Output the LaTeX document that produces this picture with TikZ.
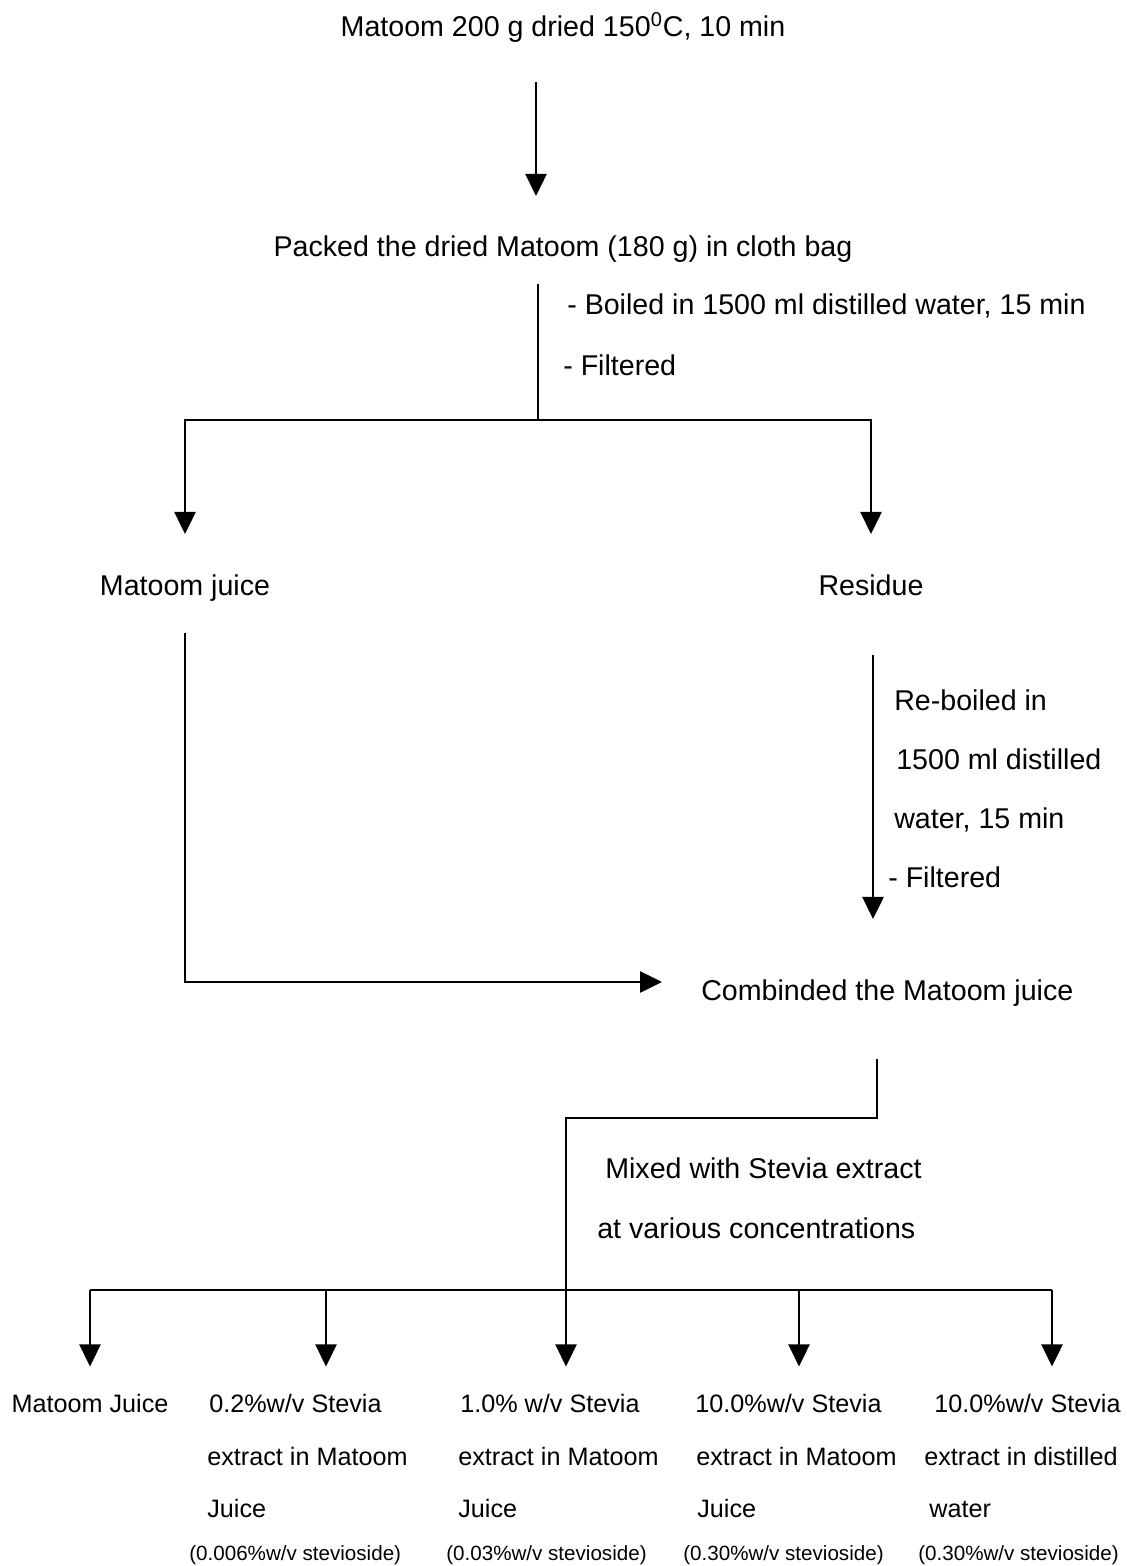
\documentclass[tikz,border=0pt]{standalone}
\usepackage{fontspec}
\setmainfont{Liberation Sans}
\usetikzlibrary{arrows.meta}
\usetikzlibrary{positioning}

\begin{document}
\begin{tikzpicture}[x=0.5pt,y=-0.5pt,line width=1.3pt,
  >={Triangle[width=10.5pt,length=11pt]},
  stage node/.style={inner sep=0pt,anchor=base,font=\fontsize{14.3}{17}\selectfont},
  note node/.style={inner sep=0pt,anchor=base west,font=\fontsize{14.3}{17}\selectfont},
  result node/.style={inner sep=0pt,anchor=base west,font=\fontsize{12.6}{15}\selectfont},
  conc node/.style={inner sep=0pt,anchor=base west,font=\fontsize{10.3}{12}\selectfont}]

  \useasboundingbox (0,0) rectangle (1126,1566);

  % main stages
  \node[stage node] (dry) at (563,37) {Matoom 200 g dried 150\textsuperscript{0}C, 10 min};
  \node[stage node] (pack) at (563,257) {Packed the dried Matoom (180 g) in cloth bag};
  \node[note node] (boil) at (566,315) {- Boiled in 1500 ml distilled water, 15 min};
  \node[note node] (filt) at (562,376) {- Filtered};
  \node[stage node] (juice) at (185,595) {Matoom juice};
  \node[stage node] (res) at (871,595) {Residue};
  \node[note node] (reb1) at (893,710) {Re-boiled in};
  \node[note node] (reb2) at (895,769) {1500 ml distilled};
  \node[note node] (reb3) at (893,828) {water, 15 min};
  \node[note node] (reb4) at (887,887) {- Filtered};
  \node[note node] (comb) at (700,1000) {Combinded the Matoom juice};
  \node[note node] (mix1) at (604,1178) {Mixed with Stevia extract};
  \node[note node] (mix2) at (596,1238) {at various concentrations};

  % results
  \node[result node,anchor=base] (mj) at (90,1412) {Matoom Juice};
  \node[result node] (sa1) at (208,1412) {0.2\%w/v Stevia};
  \node[result node] (sa2) at (206,1465) {extract in Matoom};
  \node[result node] (sa3) at (206,1517) {Juice};
  \node[conc node] (sa4) at (188,1560) {(0.006\%w/v stevioside)};
  \node[result node] (sb1) at (459,1412) {1.0\% w/v Stevia};
  \node[result node] (sb2) at (457,1465) {extract in Matoom};
  \node[result node] (sb3) at (457,1517) {Juice};
  \node[conc node] (sb4) at (445,1560) {(0.03\%w/v stevioside)};
  \node[result node] (sc1) at (694,1412) {10.0\%w/v Stevia};
  \node[result node] (sc2) at (695,1465) {extract in Matoom};
  \node[result node] (sc3) at (696,1517) {Juice};
  \node[conc node] (sc4) at (682,1560) {(0.30\%w/v stevioside)};
  \node[result node] (sd1) at (933,1412) {10.0\%w/v Stevia};
  \node[result node] (sd2) at (923,1465) {extract in distilled};
  \node[result node] (sd3) at (928,1517) {water};
  \node[conc node] (sd4) at (917,1560) {(0.30\%w/v stevioside)};

  % bends and forks
  \coordinate (col1) at (536,0);
  \coordinate (col2) at (877,0);
  \coordinate (fork1) at (538,420);
  \coordinate (bend1) at (186,982);
  \coordinate (fork2) at (566,1118);
  \coordinate (d1) at (90,1290);
  \coordinate (d2) at (326,1290);
  \coordinate (d4) at (799,1290);
  \coordinate (d5) at (1052,1290);

  \draw[->,shorten <=19pt,shorten >=19.5pt] (dry.south -| col1) -- (pack.north -| col1);
  \draw[shorten <=10pt] (pack.south -| fork1) -- (fork1);
  \draw[->,shorten >=19.5pt] (fork1) -| (juice.north);
  \draw[->,shorten >=19.5pt] (fork1) -| (res.north);
  \draw[->,shorten <=15.5pt,shorten >=19pt] (juice.south) |- (comb.west |- bend1);
  \draw[->,shorten <=29pt,shorten >=29.5pt] ([xshift=1pt]res.south) -- ([xshift=1pt]res.south |- comb.north);
  \draw[->,shorten <=26pt,shorten >=13pt] (comb.south -| col2) |- (fork2) -- (fork2 |- sb1.north);
  \draw (d1) -- (d5);
  \draw[->,shorten >=13pt] (d1) -- (mj.north);
  \draw[->,shorten >=13pt] (d2) -- (d2 |- sa1.north);
  \draw[->,shorten >=13pt] (d4) -- (d4 |- sc1.north);
  \draw[->,shorten >=13pt] (d5) -- (d5 |- sd1.north);

\end{tikzpicture}
\end{document}
